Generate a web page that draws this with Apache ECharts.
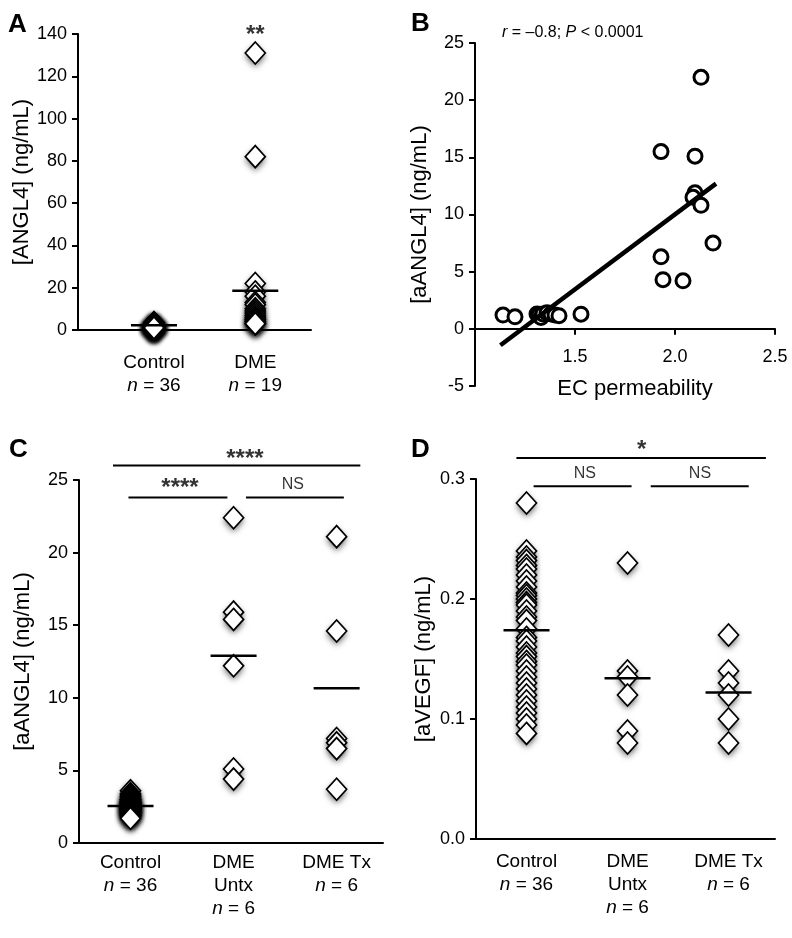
<!DOCTYPE html>
<html><head><meta charset="utf-8">
<script src="https://cdn.jsdelivr.net/npm/echarts@6/dist/echarts.min.js"></script>
<style>html,body{margin:0;padding:0;background:#fff}#c{width:792px;height:938px}</style>
</head><body><div id="c"></div>
<script>
// ---------- Panel A ----------
const aCategories = ['Control', 'DME'];
const aN = [36, 19];
const aControl = [3.5, 3.3, 3.1, 3.0, 2.9, 2.8, 2.7, 2.6, 2.6, 2.5, 2.5, 2.4, 2.4, 2.3, 2.3, 2.2, 2.2, 2.1, 2.1, 2.0, 2.0, 1.9, 1.9, 1.8, 1.8, 1.7, 1.7, 1.6, 1.5, 1.4, 1.4, 1.3, 1.2, 1.1, 1.0, 1.0];
const aDME = [131, 82, 22, 18, 16, 13, 12, 10, 9, 8, 7, 6, 5, 5, 4, 4, 3, 3, 3];
const aMeans = [2.3, 18.6];
const aSigText = [['**', 2, 139.2]];

// ---------- Panel B ----------
const bPermeability = [1.14, 1.20, 1.31, 1.32, 1.33, 1.34, 1.36, 1.38, 1.40, 1.42, 1.53, 1.93, 1.93, 1.94, 2.04, 2.10, 2.13, 2.10, 2.09, 2.13, 2.19];
const bANGL4 = [1.2, 1.05, 1.3, 1.2, 1.0, 1.3, 1.4, 1.3, 1.2, 1.15, 1.28, 15.5, 6.3, 4.3, 4.2, 15.1, 22.0, 11.9, 11.5, 10.8, 7.5];
const bFitX = [1.127, 2.205];
const bFitY = [-1.43, 12.7];

// ---------- Panels C & D ----------
const cdCategories = ['Control', 'DME\nUntx', 'DME Tx'];
const cdN = [36, 6, 6];
const cControl = [3.6, 3.4, 3.3, 3.2, 3.1, 3.0, 3.0, 2.9, 2.9, 2.8, 2.8, 2.7, 2.7, 2.7, 2.6, 2.6, 2.6, 2.5, 2.5, 2.5, 2.4, 2.4, 2.4, 2.3, 2.3, 2.3, 2.2, 2.2, 2.1, 2.1, 2.0, 2.0, 1.9, 1.9, 1.8, 1.7];
const cUntx = [22.4, 15.9, 15.4, 12.2, 5.1, 4.4];
const cTx = [21.1, 14.6, 7.2, 6.9, 6.5, 3.7];
const cMeans = [2.55, 12.9, 10.65];
const cSigBars = [[0.83, 3.23, 26.0], [0.98, 1.94, 23.8], [2.12, 3.07, 23.8]];
const cSigText = [['****', 2.11, 26.45], ['****', 1.48, 24.4], ['NS', 2.575, 24.7]];

const dControl = [0.28, 0.24, 0.235, 0.232, 0.228, 0.225, 0.22, 0.215, 0.21, 0.205, 0.203, 0.2, 0.197, 0.195, 0.19, 0.185, 0.182, 0.175, 0.168, 0.165, 0.16, 0.155, 0.152, 0.148, 0.145, 0.14, 0.135, 0.13, 0.125, 0.12, 0.115, 0.11, 0.105, 0.1, 0.095, 0.088];
const dUntx = [0.23, 0.14, 0.135, 0.12, 0.09, 0.08];
const dTx = [0.17, 0.14, 0.13, 0.12, 0.10, 0.08];
const dMeans = [0.174, 0.134, 0.122];
const dSigBars = [[0.90, 3.37, 0.3175], [1.07, 2.04, 0.294], [2.23, 3.20, 0.294]];
const dSigText = [['*', 2.14, 0.324], ['NS', 1.578, 0.3046], ['NS', 2.717, 0.3046]];

// ---------- styling ----------
const FONT = '"Liberation Sans", Arial, Helvetica, sans-serif';
const BLACK = '#000';

function catFormatter(labels, ns) {
  return function (v) {
    const i = Math.round(v) - 1;
    if (i < 0 || i >= labels.length) return '';
    const lines = labels[i].split('\n').map(s => '{b|' + s + '}');
    lines.push('{i|n}{b| = ' + ns[i] + '}');
    return lines.join('\n');
  };
}
const catRich = {
  b: { fontSize: 19, lineHeight: 23, fontFamily: FONT, color: BLACK },
  i: { fontSize: 19, lineHeight: 23, fontFamily: FONT, color: BLACK, fontStyle: 'italic' }
};

function catXAxis(grid, min, max, labels, ns, margin) {
  return {
    type: 'value', gridIndex: grid, min: min, max: max,
    axisLine: { show: true, onZero: false, lineStyle: { color: BLACK, width: 2 } },
    axisTick: { show: false },
    splitLine: { show: false },
    axisLabel: {
      customValues: labels.map((_, i) => i + 1),
      formatter: catFormatter(labels, ns), rich: catRich, margin: margin
    }
  };
}
function valYAxis(grid, min, max, interval, name, gap, fmt) {
  const ax = {
    type: 'value', gridIndex: grid, min: min, max: max, interval: interval,
    axisLine: { show: true, onZero: false, lineStyle: { color: BLACK, width: 2 } },
    axisTick: { show: true, length: 6, lineStyle: { color: BLACK, width: 2 } },
    splitLine: { show: false },
    axisLabel: { fontSize: 18, color: BLACK, fontFamily: FONT, margin: 11 },
    name: name, nameLocation: 'middle', nameGap: gap,
    nameTextStyle: { fontSize: 22, color: BLACK, fontFamily: FONT }
  };
  if (fmt) ax.axisLabel.formatter = fmt;
  return ax;
}

function renderDiamond(params, api) {
  const p = api.coord([api.value(0), api.value(1)]);
  const w = 10, h = 11;
  const pts = [[p[0], p[1] - h], [p[0] + w, p[1]], [p[0], p[1] + h], [p[0] - w, p[1]]];
  return {
    type: 'group',
    children: [
      { type: 'polygon', shape: { points: pts },
        style: { fill: '#fff', shadowBlur: 6, shadowOffsetY: 3, shadowColor: 'rgba(0,0,0,0.6)' } },
      { type: 'polygon', shape: { points: pts },
        style: { fill: '#fff', stroke: BLACK, lineWidth: 1.7 } }
    ]
  };
}
function diamonds(idx, x, vals) {
  return {
    type: 'custom', xAxisIndex: idx, yAxisIndex: idx, silent: true, z: 3,
    data: vals.map(v => [x, v]), encode: { x: 0, y: 1 },
    renderItem: renderDiamond
  };
}
function meanLines(idx, means) {
  return {
    type: 'scatter', xAxisIndex: idx, yAxisIndex: idx, silent: true, z: 6,
    data: means.map((m, i) => [i + 1, m]), symbol: 'rect', symbolSize: [46, 2.5],
    itemStyle: { color: BLACK, opacity: 1 }
  };
}
function sigBars(idx, bars) {
  return bars.map(b => ({
    type: 'line', xAxisIndex: idx, yAxisIndex: idx, silent: true, clip: false,
    data: [[b[0], b[2]], [b[1], b[2]]], symbol: 'none',
    lineStyle: { color: BLACK, width: 2 }
  }));
}
function sigTextSeries(idx, texts) {
  return texts.map(t => {
    const isNS = t[0] === 'NS';
    return {
      type: 'scatter', xAxisIndex: idx, yAxisIndex: idx, silent: true, clip: false, z: 7,
      data: [[t[1], t[2], t[0]]], symbolSize: 1,
      itemStyle: { color: 'rgba(0,0,0,0)' },
      label: {
        show: true, position: 'inside', color: BLACK, fontFamily: FONT,
        fontSize: isNS ? 16 : 24, fontWeight: isNS ? 'normal' : 'bold',
        formatter: p => p.value[2]
      }
    };
  });
}

const letterStyle = { fontSize: 26, fontWeight: 'bold', fontFamily: FONT, color: BLACK };

const option = {
  animation: false,
  backgroundColor: '#fff',
  title: [
    { text: 'A', left: 8, top: 12, padding: 0, textStyle: letterStyle },
    { text: 'B', left: 411, top: 11, padding: 0, textStyle: letterStyle },
    { text: 'C', left: 9, top: 437, padding: 0, textStyle: letterStyle },
    { text: 'D', left: 411, top: 437, padding: 0, textStyle: letterStyle },
    {
      text: '{i|r} = \u20130.8; {i|P} < 0.0001', left: 502, top: 25, padding: 0,
      textStyle: {
        fontSize: 16, fontWeight: 'normal', fontFamily: FONT, color: BLACK,
        rich: { i: { fontSize: 16, fontStyle: 'italic', fontFamily: FONT, color: BLACK } }
      }
    }
  ],
  grid: [
    { left: 78, top: 34, width: 233, height: 296 },
    { left: 475, top: 43, width: 300, height: 343 },
    { left: 79, top: 480, width: 304, height: 363 },
    { left: 476, top: 479, width: 299, height: 360 }
  ],
  xAxis: [
    catXAxis(0, 0.25, 2.55, aCategories, aN, 21),
    {
      // x-axis line drawn at y = 0 of the [-5, 25] scale (5/30 of 343 px above the grid bottom)
      type: 'value', gridIndex: 1, min: 1.0, max: 2.5, interval: 0.5, offset: -57.2,
      axisLine: { show: true, onZero: false, lineStyle: { color: BLACK, width: 2 } },
      axisTick: { show: true, length: 6, lineStyle: { color: BLACK, width: 2 } },
      splitLine: { show: false },
      axisLabel: { fontSize: 18, color: BLACK, fontFamily: FONT, margin: 19, showMinLabel: false,
        formatter: v => v.toFixed(1) },
      name: 'EC permeability', nameLocation: 'middle', nameGap: 49,
      nameTextStyle: { fontSize: 22, color: BLACK, fontFamily: FONT, padding: [0, 0, 0, 20] }
    },
    catXAxis(2, 0.5, 3.45, cdCategories, cdN, 8),
    catXAxis(3, 0.5, 3.46, cdCategories, cdN, 11)
  ],
  yAxis: [
    valYAxis(0, 0, 140, 20, '[ANGL4] (ng/mL)', 45),
    valYAxis(1, -5, 25, 5, '[aANGL4] (ng/mL)', 44),
    valYAxis(2, 0, 25, 5, '[aANGL4] (ng/mL)', 45),
    valYAxis(3, 0, 0.3, 0.1, '[aVEGF] (ng/mL)', 41, v => v.toFixed(1))
  ],
  series: [
    // Panel A
    diamonds(0, 1, aControl),
    diamonds(0, 2, aDME),
    meanLines(0, aMeans),
    ...sigTextSeries(0, aSigText),
    // Panel B
    {
      type: 'line', xAxisIndex: 1, yAxisIndex: 1, silent: true, z: 4,
      data: bFitX.map((x, i) => [x, bFitY[i]]), symbol: 'none',
      lineStyle: { color: BLACK, width: 4.5 }
    },
    {
      type: 'scatter', xAxisIndex: 1, yAxisIndex: 1, silent: true, z: 3,
      data: bPermeability.map((x, i) => [x, bANGL4[i]]), symbol: 'circle', symbolSize: 14,
      itemStyle: { color: '#fff', borderColor: BLACK, borderWidth: 3, opacity: 1 }
    },
    // Panel C
    diamonds(2, 1, cControl),
    diamonds(2, 2, cUntx),
    diamonds(2, 3, cTx),
    meanLines(2, cMeans),
    ...sigBars(2, cSigBars),
    ...sigTextSeries(2, cSigText),
    // Panel D
    diamonds(3, 1, dControl),
    diamonds(3, 2, dUntx),
    diamonds(3, 3, dTx),
    meanLines(3, dMeans),
    ...sigBars(3, dSigBars),
    ...sigTextSeries(3, dSigText)
  ]
};

const chart = echarts.init(document.getElementById('c'), null, { renderer: 'canvas' });
chart.setOption(option);
</script></body></html>
